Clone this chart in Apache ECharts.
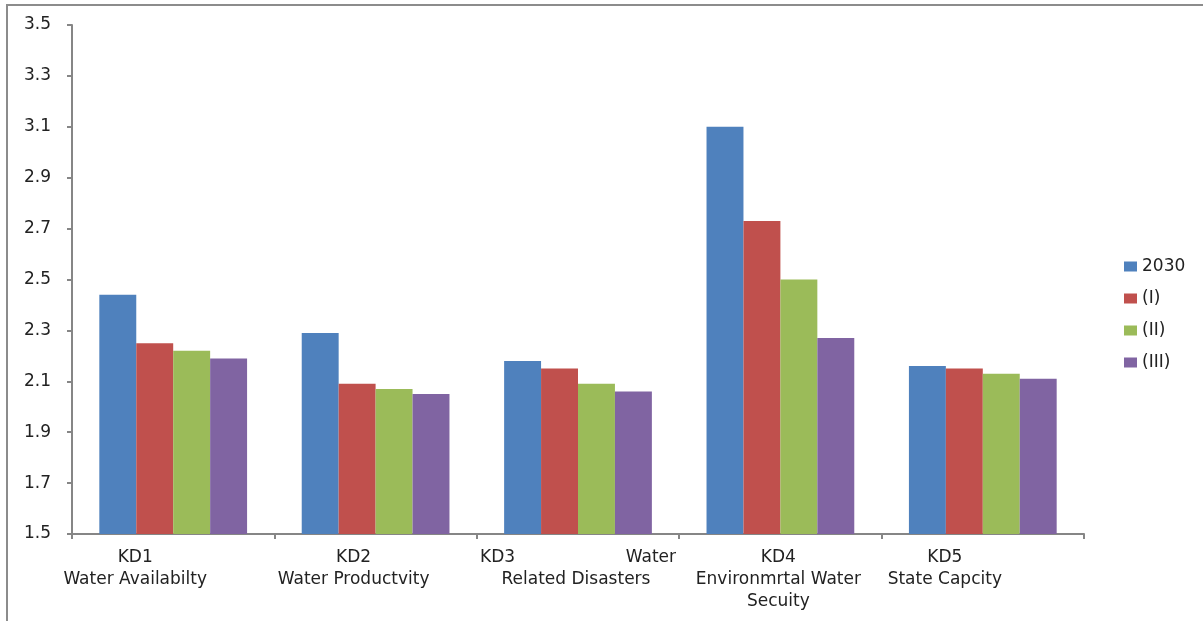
<!DOCTYPE html>
<html>
<head>
<meta charset="utf-8">
<script src="https://cdn.jsdelivr.net/npm/echarts@6/dist/echarts.min.js"></script>
<style>
  html, body { margin: 0; padding: 0; background: #fff; }
  #frame { position: absolute; left: 6px; top: 4px; width: 1197px; height: 617px;
           border-top: 2px solid #8c8c8c; border-left: 2px solid #8c8c8c; box-sizing: border-box; }
  #chart { position: absolute; left: 0; top: 0; width: 1203px; height: 621px; }
</style>
</head>
<body>
<div id="frame"></div>
<div id="chart"></div>
<script>
// Key dimensions along the x axis
const categories = [
  'KD1\nWater Availabilty',
  'KD2\nWater Productvity',
  'KD3 Water\nRelated Disasters',
  'KD4\nEnvironmrtal Water\nSecuity',
  'KD5\nState Capcity'
];

// Scenario scores per key dimension
const seriesNames = ['2030', '(I)', '(II)', '(III)'];
const values2030 = [2.44, 2.29, 2.18, 3.10, 2.16];
const valuesI    = [2.25, 2.09, 2.15, 2.73, 2.15];
const valuesII   = [2.22, 2.07, 2.09, 2.50, 2.13];
const valuesIII  = [2.19, 2.05, 2.06, 2.27, 2.11];

// Value axis range
const yMin = 1.5, yMax = 3.5, yStep = 0.2;

const colors = ['#4F81BD', '#C0504D', '#9BBB59', '#8064A2'];
const font = '"DejaVu Sans", Verdana, sans-serif';
const fontSize = 17;
const textColor = '#222222';
const axisColor = '#868686';

// Horizontal nudge (px) of each category label relative to its category centre
const labelNudge = [-38, -22, -2, -2, -38];

const rich = {
  l: { fontFamily: font, fontSize: fontSize, color: textColor, width: 98, align: 'left', lineHeight: 22 },
  r: { fontFamily: font, fontSize: fontSize, color: textColor, width: 98, align: 'right', lineHeight: 22 }
};
labelNudge.forEach((dx, i) => {
  rich['n' + i] = {
    fontFamily: font, fontSize: fontSize, color: textColor, lineHeight: 22,
    padding: dx < 0 ? [0, -2 * dx, 0, 0] : [0, 0, 0, 2 * dx]
  };
});

const chart = echarts.init(document.getElementById('chart'));

function categoryLabel(value, index) {
  const lines = value.split('\n');
  // The KD3 label has its first line spread across the label width
  if (value.startsWith('KD3 ')) {
    const words = lines[0].split(' ');
    return '{l|' + words[0] + '}{r|' + words[1] + '}\n{n' + index + '|' + lines[1] + '}';
  }
  return lines.map(line => '{n' + index + '|' + line + '}').join('\n');
}

const allSeries = [values2030, valuesI, valuesII, valuesIII].map((data, i) => ({
  name: seriesNames[i],
  type: 'bar',
  data: data,
  barGap: '0%',
  barCategoryGap: '27%',
  itemStyle: { color: colors[i] },
  emphasis: { disabled: true }
}));

chart.setOption({
  animation: false,
  color: colors,
  grid: { left: 72, right: 119, top: 25, bottom: 87, containLabel: false },
  legend: {
    orient: 'vertical',
    left: 1119,
    top: 253,
    itemWidth: 13,
    itemHeight: 10,
    itemGap: 15,
    icon: 'rect',
    textStyle: { fontFamily: font, fontSize: fontSize, color: textColor, padding: [0, 0, 0, 0] },
    data: seriesNames
  },
  xAxis: {
    type: 'category',
    data: categories,
    axisLine: { lineStyle: { color: axisColor, width: 2 } },
    axisTick: { show: true, length: 5, lineStyle: { color: axisColor, width: 2 } },
    axisLabel: {
      interval: 0,
      margin: 13,
      fontFamily: font,
      fontSize: fontSize,
      lineHeight: 22,
      color: textColor,
      align: 'center',
      formatter: categoryLabel,
      rich: rich
    }
  },
  yAxis: {
    type: 'value',
    min: yMin,
    max: yMax,
    interval: yStep,
    axisLine: { show: true, lineStyle: { color: axisColor, width: 2 } },
    axisTick: { show: true, length: 5, lineStyle: { color: axisColor, width: 2 } },
    splitLine: { show: false },
    axisLabel: {
      margin: 21,
      fontFamily: font,
      fontSize: fontSize,
      color: textColor,
      formatter: v => v.toFixed(1)
    }
  },
  series: allSeries
});
</script>
</body>
</html>
